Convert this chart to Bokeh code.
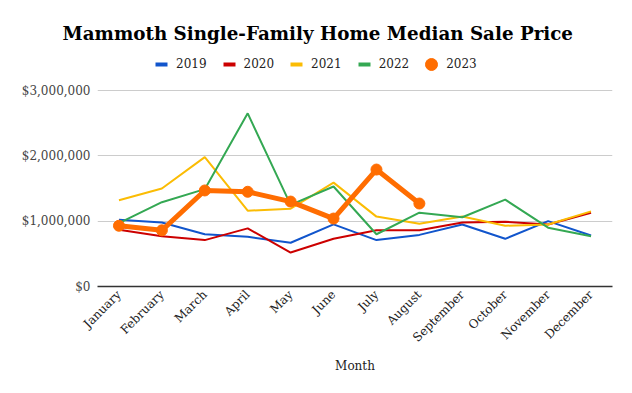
import math
from bokeh.plotting import figure
from bokeh.models import (FactorRange, Range1d, FixedTicker, NumeralTickFormatter,
                          Legend, LegendItem)
from bokeh.embed import file_html
from bokeh.resources import INLINE

months = ["January", "February", "March", "April", "May", "June", "July",
          "August", "September", "October", "November", "December"]

y2019 = [1020000, 980000, 800000, 760000, 670000, 950000, 710000, 790000, 950000, 730000, 1000000, 780000]
y2020 = [870000, 770000, 710000, 890000, 520000, 730000, 860000, 860000, 980000, 990000, 950000, 1130000]
y2021 = [1320000, 1500000, 1980000, 1160000, 1190000, 1590000, 1070000, 960000, 1070000, 930000, 950000, 1150000]
y2022 = [970000, 1290000, 1490000, 2650000, 1250000, 1530000, 800000, 1130000, 1060000, 1330000, 900000, 770000]
y2023 = [930000, 860000, 1470000, 1450000, 1300000, 1040000, 1790000, 1270000]
y_ticks = [0, 1000000, 2000000, 3000000]

series = [("2019", y2019, "#1155cc"), ("2020", y2020, "#cc0000"),
          ("2021", y2021, "#fbbc04"), ("2022", y2022, "#34a853")]
c2023 = "#ff6d01"

SERIF = "DejaVu Serif"
NAN = float("nan")

# frame spans from y=50 to y=286; the $3,000,000 grid line sits at y=90
FRAME_TOP, FRAME_BOTTOM, GRID_TOP = 50, 286, 90
y_top = y_ticks[-1] * (FRAME_BOTTOM - FRAME_TOP) / (FRAME_BOTTOM - GRID_TOP)

p = figure(width=632, height=393, x_range=FactorRange(*months), y_range=Range1d(0, y_top),
           output_backend="svg", toolbar_location=None,
           min_border_left=97, min_border_right=20, min_border_top=FRAME_TOP,
           min_border_bottom=393 - FRAME_BOTTOM)
p.outline_line_color = None

items = []
for name, vals, col in series:
    p.line(months, vals, line_color=col, line_width=2)
    # legend swatch (drawn only in the legend)
    sw = p.scatter(x=[months[0]], y=[NAN], marker="dash", line_color=col, line_width=4)
    items.append(LegendItem(label=name, renderers=[sw]))

p.line(months[:len(y2023)], y2023, line_color=c2023, line_width=5)
p.scatter(months[:len(y2023)], y2023, size=11, fill_color=c2023, line_color=c2023)
d23 = p.scatter(x=[months[0]], y=[NAN], fill_color=c2023, line_color=c2023)
items.append(LegendItem(label="2023", renderers=[d23]))

p.title.text = "Mammoth Single-Family Home Median Sale Price"
p.title.text_font = SERIF
p.title.text_font_size = "18.3px"
p.title.text_font_style = "bold"
p.title.text_color = "#000000"
p.title.align = "left"
p.title.offset = -35
p.title.standoff = 13

legend = Legend(items=items, orientation="horizontal", location=(49, 207))
legend.label_text_font = SERIF
legend.label_text_font_size = "12px"
legend.label_text_color = "#222222"
legend.glyph_width = 30
legend.glyph_height = 30
legend.label_standoff = 0
legend.spacing = 7
legend.padding = 0
legend.margin = 0
legend.border_line_color = None
legend.background_fill_alpha = 0
p.add_layout(legend, "center")

# axes
p.yaxis.ticker = FixedTicker(ticks=y_ticks)
p.yaxis.formatter = NumeralTickFormatter(format="$0,0")
p.yaxis.axis_line_color = None
p.yaxis.major_tick_line_color = None
p.yaxis.major_tick_out = 0
p.yaxis.major_tick_in = 0
p.yaxis.minor_tick_line_color = None
p.yaxis.major_label_text_font = SERIF
p.yaxis.major_label_text_font_size = "12px"
p.yaxis.major_label_text_color = "#444444"
p.yaxis.major_label_standoff = 7

p.xaxis.axis_line_color = "#333333"
p.xaxis.axis_line_width = 1.5
p.xaxis.major_tick_line_color = None
p.xaxis.major_tick_out = 0
p.xaxis.major_tick_in = 0
p.xaxis.minor_tick_line_color = None
p.xaxis.major_label_orientation = math.pi / 4
p.xaxis.major_label_text_font = SERIF
p.xaxis.major_label_text_font_size = "12px"
p.xaxis.major_label_text_color = "#222222"
p.xaxis.major_label_standoff = 6
p.xaxis.axis_label = "Month"
p.xaxis.axis_label_text_font = SERIF
p.xaxis.axis_label_text_font_size = "12px"
p.xaxis.axis_label_text_font_style = "normal"
p.xaxis.axis_label_text_color = "#222222"
p.xaxis.axis_label_standoff = 6

p.xgrid.grid_line_color = None
p.ygrid.grid_line_color = "#cccccc"
p.ygrid.grid_line_width = 1

open("out.html", "w").write(file_html(p, INLINE))
